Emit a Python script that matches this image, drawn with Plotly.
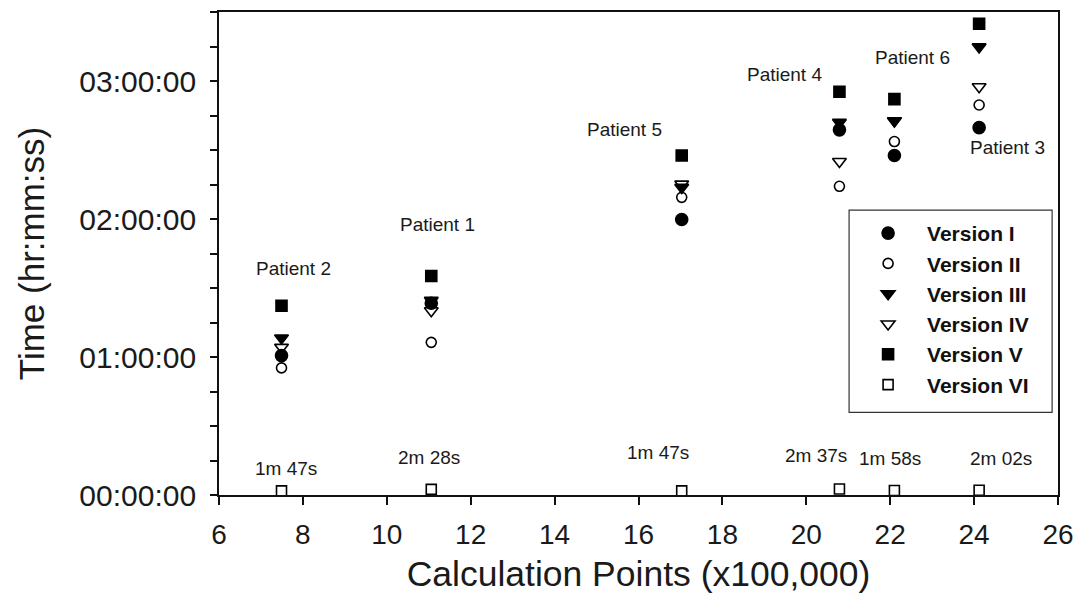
import plotly.graph_objects as go

# Calculation points (x100,000) for each patient, in the order drawn
patients = ["Patient 2", "Patient 1", "Patient 5", "Patient 4", "Patient 6", "Patient 3"]
calc_points = [7.49, 11.06, 17.03, 20.79, 22.10, 24.12]

# Run times per software version (hh:mm:ss)
version_1 = ["1:00:36", "1:23:24", "1:59:46", "2:38:46", "2:27:36", "2:39:43"]
version_2 = ["0:55:16", "1:06:22", "2:09:25", "2:14:13", "2:33:40", "2:49:34"]
version_3 = ["1:08:17", "1:24:36", "2:13:44", "2:42:00", "2:42:40", "3:14:49"]
version_4 = ["1:04:12", "1:20:06", "2:15:11", "2:25:01", "2:42:40", "2:57:29"]
version_5 = ["1:22:16", "1:35:13", "2:27:36", "2:55:19", "2:52:08", "3:24:54"]
version_6 = ["0:01:47", "0:02:28", "0:01:47", "0:02:37", "0:01:58", "0:02:02"]

version_names = ["Version I", "Version II", "Version III", "Version IV", "Version V", "Version VI"]
y_tick_hours = [0, 1, 2, 3]
y_tick_text = ["00:00:00", "01:00:00", "02:00:00", "03:00:00"]


def to_seconds(t):
    h, m, s = (int(p) for p in t.split(":"))
    return h * 3600 + m * 60 + s


def to_hours(t):
    return to_seconds(t) / 3600.0


def short_label(t):
    sec = to_seconds(t)
    return f"{sec // 60}m {sec % 60:02d}s"


series = [version_1, version_2, version_3, version_4, version_5, version_6]
symbols = ["circle", "circle-open", "triangle-down", "triangle-down-open", "square", "square-open"]
sizes = [12, 10, 12, 12, 11, 10]

FONT = "Liberation Sans, Arial, Helvetica, sans-serif"
INK = "#111111"

fig = go.Figure()
for name, vals, sym, sz in zip(version_names, series, symbols, sizes):
    fig.add_trace(go.Scatter(
        x=calc_points,
        y=[to_hours(v) for v in vals],
        mode="markers",
        name=name,
        legendgroup=name,
        marker=dict(symbol=sym, size=sz, color="black",
                    line=dict(color="black", width=1.6)),
    ))

# Patient name labels, offset in pixels from the top of each cluster
patient_offsets = {
    "Patient 2": (12, 37, "top"),
    "Patient 1": (6, 52, "top"),
    "Patient 5": (-57, 26, "top"),
    "Patient 4": (-55, 17, "top"),
    "Patient 6": (18, 42, "top"),
    "Patient 3": (28, -20, "bottom"),
}
all_versions = [version_1, version_2, version_3, version_4, version_5]
for i, p in enumerate(patients):
    col = [to_hours(v[i]) for v in all_versions]
    dx, dy, where = patient_offsets[p]
    y_ref = max(col) if where == "top" else min(col)
    fig.add_annotation(x=calc_points[i], y=y_ref, text=p, showarrow=False,
                       xshift=dx, yshift=dy,
                       font=dict(family=FONT, size=19, color="#1a1a1a"))

# Version VI run-time labels above the near-zero squares
vi_offsets = [(4, 22), (-2, 32), (-24, 38), (-23, 33), (-4, 32), (22, 32)]
for i, t in enumerate(version_6):
    dx, dy = vi_offsets[i]
    fig.add_annotation(x=calc_points[i], y=to_hours(t), text=short_label(t),
                       showarrow=False, xshift=dx, yshift=dy,
                       font=dict(family=FONT, size=19, color="#1a1a1a"))

# Frame drawn around the legend entries
fig.add_shape(type="rect", xref="paper", yref="paper",
              x0=0.751, x1=0.993, y0=0.171, y1=0.5897,
              line=dict(color="#333333", width=1.2), fillcolor="rgba(0,0,0,0)")

fig.update_layout(
    width=1084, height=607,
    margin=dict(l=219, r=25, t=10, b=112),
    paper_bgcolor="white", plot_bgcolor="white",
    font=dict(family=FONT, color=INK),
    showlegend=True,
    legend=dict(x=0.751, y=0.584, xanchor="left", yanchor="top",
                bgcolor="rgba(0,0,0,0)", borderwidth=0,
                font=dict(family=FONT, size=21, color=INK, weight="bold"),
                tracegroupgap=0, itemwidth=68),
)

fig.update_xaxes(
    range=[6, 26], dtick=2, tick0=6,
    showline=True, linecolor=INK, linewidth=1.8, mirror=True,
    ticks="outside", ticklen=8, tickwidth=1.5, tickcolor=INK,
    showgrid=False, zeroline=False,
    ticklabelstandoff=5,
    tickfont=dict(family=FONT, size=28, color="#1a1a1a"),
    title=dict(text="Calculation Points (x100,000)",
               font=dict(family=FONT, size=35.5, color="#1a1a1a"), standoff=13),
)
fig.update_yaxes(
    range=[0, 3.5], tickvals=y_tick_hours, ticktext=y_tick_text,
    showline=True, linecolor=INK, linewidth=1.8, mirror=True,
    ticks="outside", ticklen=7, tickwidth=1.5, tickcolor=INK,
    minor=dict(dtick=0.25, tick0=0, ticks="outside", ticklen=7, tickwidth=1.5, tickcolor=INK),
    showgrid=False, zeroline=False,
    ticklabelstandoff=8,
    tickfont=dict(family=FONT, size=30, color="#1a1a1a"),
    title=dict(text="Time (hr:mm:ss)",
               font=dict(family=FONT, size=35, color="#1a1a1a"), standoff=24),
)

fig.write_html("out.html")
